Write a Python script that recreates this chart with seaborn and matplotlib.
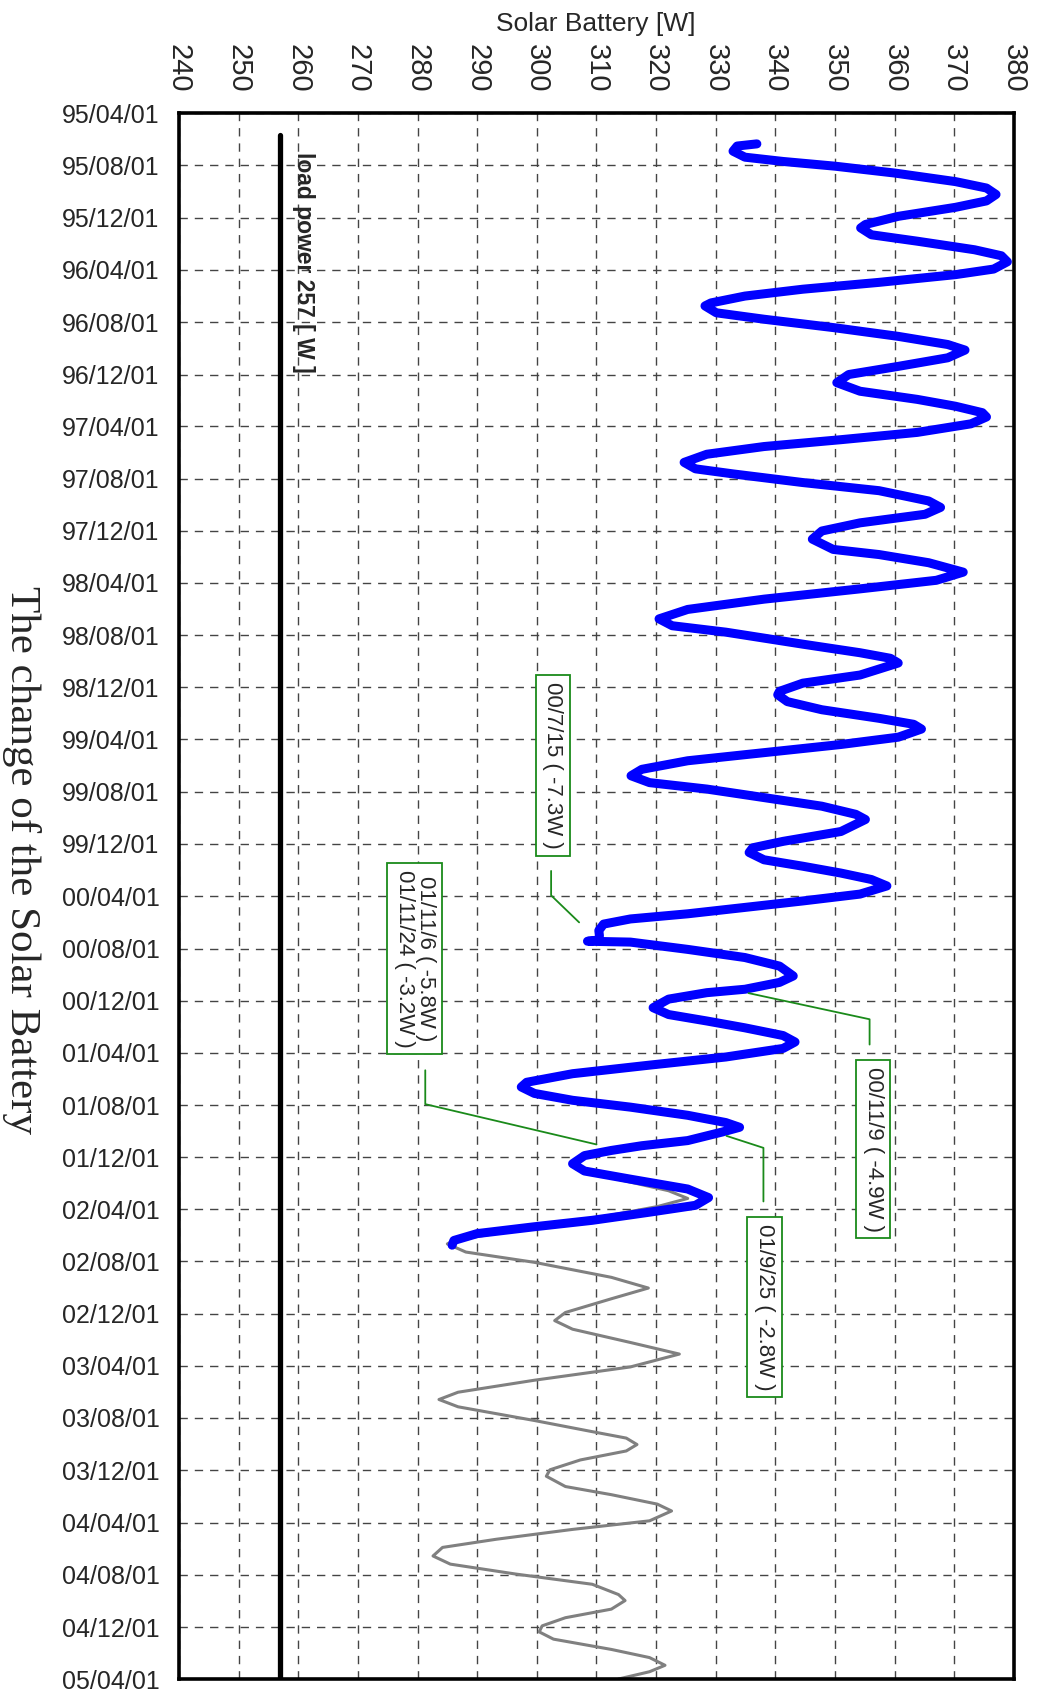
import pandas as pd
import matplotlib
matplotlib.use("Agg")
import matplotlib.pyplot as plt
import matplotlib.dates as mdates
import seaborn as sns

# =========================
# DATA
# =========================
# measured output of the solar battery
blue_dates = [
    "1995-06-12", "1995-06-17", "1995-06-29", "1995-07-13", "1995-07-23", "1995-08-03",
    "1995-08-19", "1995-09-08", "1995-09-23", "1995-10-08", "1995-10-23", "1995-11-07",
    "1995-11-28", "1995-12-17", "1995-12-25", "1996-01-10", "1996-01-25", "1996-02-14",
    "1996-02-28", "1996-03-13", "1996-03-30", "1996-04-12", "1996-04-30", "1996-05-16",
    "1996-06-01", "1996-06-17", "1996-06-24", "1996-07-10", "1996-07-25", "1996-08-14",
    "1996-09-03", "1996-09-22", "1996-10-05", "1996-10-23", "1996-11-12", "1996-12-01",
    "1996-12-20", "1997-01-09", "1997-01-28", "1997-02-13", "1997-02-28", "1997-03-10",
    "1997-03-26", "1997-04-15", "1997-05-02", "1997-05-18", "1997-06-05", "1997-06-24",
    "1997-07-09", "1997-07-21", "1997-08-10", "1997-08-29", "1997-09-22", "1997-10-07",
    "1997-10-23", "1997-11-12", "1997-12-01", "1997-12-20", "1998-01-13", "1998-01-25",
    "1998-02-13", "1998-03-07", "1998-03-26", "1998-04-15", "1998-05-09", "1998-06-02",
    "1998-06-24", "1998-07-10", "1998-07-25", "1998-08-22", "1998-09-11", "1998-09-24",
    "1998-10-05", "1998-11-02", "1998-11-21", "1998-12-10", "1998-12-18", "1999-01-03",
    "1999-01-22", "1999-02-11", "1999-02-25", "1999-03-08", "1999-03-27", "1999-04-13",
    "1999-05-02", "1999-05-21", "1999-06-10", "1999-06-25", "1999-07-11", "1999-07-26",
    "1999-08-15", "1999-09-04", "1999-09-23", "1999-10-05", "1999-11-02", "1999-11-25",
    "1999-12-10", "1999-12-21", "2000-01-07", "2000-01-22", "2000-02-07", "2000-02-22",
    "2000-03-08", "2000-03-27", "2000-04-12", "2000-05-02", "2000-05-12", "2000-05-24",
    "2000-06-05", "2000-06-20", "2000-07-02", "2000-07-12", "2000-07-15", "2000-07-17",
    "2000-08-03", "2000-08-22", "2000-09-11", "2000-10-04", "2000-10-19", "2000-11-04",
    "2000-11-12", "2000-11-27", "2000-12-17", "2001-01-02", "2001-01-17", "2001-02-02",
    "2001-02-20", "2001-03-07", "2001-03-22", "2001-04-11", "2001-04-30", "2001-05-20",
    "2001-06-09", "2001-06-20", "2001-07-05", "2001-07-21", "2001-08-06", "2001-08-25",
    "2001-09-11", "2001-09-22", "2001-10-03", "2001-10-23", "2001-11-04", "2001-11-15",
    "2001-11-27", "2001-12-16", "2002-01-02", "2002-01-21", "2002-02-13", "2002-03-05",
    "2002-03-23", "2002-04-08", "2002-04-27", "2002-05-12", "2002-05-28", "2002-06-13",
    "2002-06-24",
]
blue_watts = [
    336.9, 333.6, 332.9, 334.9, 341.3, 350.0,
    360.0, 370.2, 375.4, 377.0, 375.4, 370.2,
    360.6, 355.1, 354.3, 356.1, 363.8, 373.4,
    377.9, 378.9, 376.6, 370.2, 357.4, 344.6,
    334.9, 329.2, 328.2, 330.1, 338.1, 350.0,
    360.6, 368.9, 371.8, 368.9, 360.6, 352.3,
    350.3, 354.2, 363.8, 370.2, 374.7, 375.4,
    372.8, 363.8, 351.0, 338.1, 328.5, 324.7,
    326.6, 333.0, 344.6, 357.4, 365.7, 367.7,
    365.1, 354.2, 347.8, 346.2, 349.7, 357.4,
    365.7, 371.5, 367.0, 354.2, 338.1, 325.3,
    320.5, 322.7, 331.7, 344.6, 354.2, 359.3,
    360.6, 354.2, 344.6, 340.7, 340.4, 342.0,
    347.8, 357.4, 363.2, 364.5, 360.6, 351.0,
    338.1, 325.3, 317.6, 315.8, 318.9, 328.5,
    338.1, 347.8, 353.5, 355.1, 351.0, 341.3,
    336.2, 335.6, 338.1, 344.6, 351.0, 356.1,
    358.7, 354.2, 344.6, 331.7, 325.3, 315.7,
    311.2, 310.4, 310.5, 310.4, 308.5, 315.7,
    325.3, 334.9, 340.7, 343.0, 340.7, 334.9,
    328.5, 322.1, 319.5, 322.1, 328.5, 334.9,
    341.3, 343.3, 341.3, 331.7, 318.9, 306.0,
    298.3, 297.4, 299.6, 306.0, 315.7, 325.3,
    331.7, 334.0, 331.1, 325.3, 317.6, 312.5,
    308.0, 306.0, 308.0, 315.7, 325.3, 328.8,
    326.6, 318.9, 309.3, 299.6, 290.0, 286.1,
    285.8,
]

# predicted curve
gray_dates = [
    "2001-12-28", "2002-01-21", "2002-02-17", "2002-03-07", "2002-03-26", "2002-04-23",
    "2002-05-20", "2002-06-13", "2002-06-21", "2002-07-10", "2002-08-03", "2002-09-07",
    "2002-10-02", "2002-10-27", "2002-11-28", "2002-12-17", "2003-01-06", "2003-02-06",
    "2003-03-05", "2003-04-04", "2003-05-05", "2003-06-02", "2003-06-19", "2003-07-06",
    "2003-08-07", "2003-09-02", "2003-09-17", "2003-10-02", "2003-10-17", "2003-11-07",
    "2003-11-30", "2003-12-15", "2004-01-08", "2004-01-27", "2004-02-18", "2004-03-05",
    "2004-03-28", "2004-04-17", "2004-05-10", "2004-05-29", "2004-06-18", "2004-07-07",
    "2004-07-30", "2004-08-23", "2004-09-16", "2004-09-30", "2004-10-20", "2004-11-09",
    "2004-11-28", "2004-12-12", "2004-12-29", "2005-01-22", "2005-02-10", "2005-02-28",
    "2005-03-15", "2005-04-01",
]
gray_watts = [
    306.6, 313.5, 322.1, 325.3, 320.2, 309.3,
    296.4, 286.1, 285.0, 288.1, 299.6, 312.5,
    318.7, 312.5, 304.8, 303.0, 306.0, 315.7,
    323.9, 315.7, 299.6, 286.8, 283.6, 286.8,
    299.6, 309.3, 315.0, 316.8, 315.0, 307.3,
    302.2, 301.6, 304.8, 312.5, 320.2, 322.6,
    318.9, 306.0, 293.2, 284.2, 282.6, 285.5,
    296.4, 309.3, 313.7, 314.8, 312.5, 304.8,
    300.9, 300.4, 302.8, 312.5, 318.9, 321.5,
    318.9, 313.7,
]

load_dates = ["1995-05-22", "2005-04-01"]
load_watts = [257, 257]

notes = [
    "00/7/15 ( -7.3W )",
    "01/11/6 ( -5.8W )\n01/11/24 ( -3.2W )",
    "00/11/9 ( -4.9W )",
    "01/9/25 ( -2.8W )",
]

# =========================
# LAYOUT OF THE NOTES
# =========================
note_box_dates = ["1999-06-01", "2000-08-24", "2001-11-12", "2002-11-15"]
note_box_watts = [302.7, 279.5, 356.4, 338.2]
leader_dates = [
    ["2000-02-02", "2000-03-30", "2000-06-01"],
    ["2001-05-12", "2001-07-30", "2001-11-01"],
    ["2001-03-13", "2001-01-13", "2000-11-13"],
    ["2002-03-14", "2001-11-09", "2001-10-12"],
]
leader_watts = [
    [302.4, 302.4, 307.1],
    [281.3, 281.3, 310.0],
    [355.8, 355.8, 335.5],
    [338.0, 338.0, 331.8],
]

measured = pd.DataFrame({"date": pd.to_datetime(blue_dates), "watt": blue_watts})
predicted = pd.DataFrame({"date": pd.to_datetime(gray_dates), "watt": gray_watts})
load = pd.DataFrame({"date": pd.to_datetime(load_dates), "watt": load_watts})

# =========================
# PLOT
# =========================
sns.set_style("white")
plt.rcParams["font.family"] = ["Liberation Sans", "DejaVu Sans"]

fig = plt.figure(figsize=(10.38, 16.97), dpi=100)
ax = fig.add_axes([0.1724, 0.0106, 0.8044, 0.9228])

sns.lineplot(data=predicted, x="watt", y="date", orient="y", sort=False, estimator=None,
             color="#808080", linewidth=2.2, ax=ax)
sns.lineplot(data=measured, x="watt", y="date", orient="y", sort=False, estimator=None,
             color="#0000ff", linewidth=6.5, solid_joinstyle="round", solid_capstyle="round", ax=ax)
sns.lineplot(data=load, x="watt", y="date", orient="y", sort=False, estimator=None,
             color="black", linewidth=3.8, ax=ax)

ax.set_xlim(240, 380)
ax.set_xticks(range(240, 381, 10))
ax.set_ylim(pd.Timestamp("2005-04-01"), pd.Timestamp("1995-04-01"))
ax.yaxis.set_major_locator(mdates.MonthLocator(bymonth=[4, 8, 12], bymonthday=1))
ax.yaxis.set_major_formatter(mdates.DateFormatter("%y/%m/%d"))

ax.xaxis.tick_top()
ax.tick_params(axis="x", length=0, pad=15, labelsize=21, labelrotation=270)
ax.tick_params(axis="y", length=0, pad=14, labelsize=18)
ax.set_xlabel("")
ax.set_ylabel("")

ax.set_axisbelow(True)
ax.grid(True, color="#444444", linestyle=(0, (6, 5)), linewidth=1)
for s in ax.spines.values():
    s.set_linewidth(2.6)
    s.set_color("black")

# load power label
ax.text(260.9, pd.Timestamp("1995-07-01"), "load power 257 [ W ]", rotation=270,
        ha="center", va="top", fontsize=16.5, fontweight="bold")

# notes with green boxes
for txt, bd, bw, ld, lw_ in zip(notes, note_box_dates, note_box_watts, leader_dates, leader_watts):
    ax.plot(lw_, pd.to_datetime(ld), color="#1a8a1a", linewidth=1.3)
    ax.text(bw, pd.Timestamp(bd), txt, rotation=270, ha="center", va="center", fontsize=16,
            linespacing=1.0,
            bbox=dict(boxstyle="square,pad=0.3", facecolor="white", edgecolor="#1a8a1a", linewidth=1.3))

fig.text(0.574, 0.986, "Solar Battery [W]", ha="center", va="center", fontsize=19)
fig.text(0.021, 0.493, "The change of the Solar Battery", rotation=270, ha="center", va="center",
         fontsize=31, family=["Liberation Serif", "DejaVu Serif"])

fig.savefig("out.png", dpi=100)
